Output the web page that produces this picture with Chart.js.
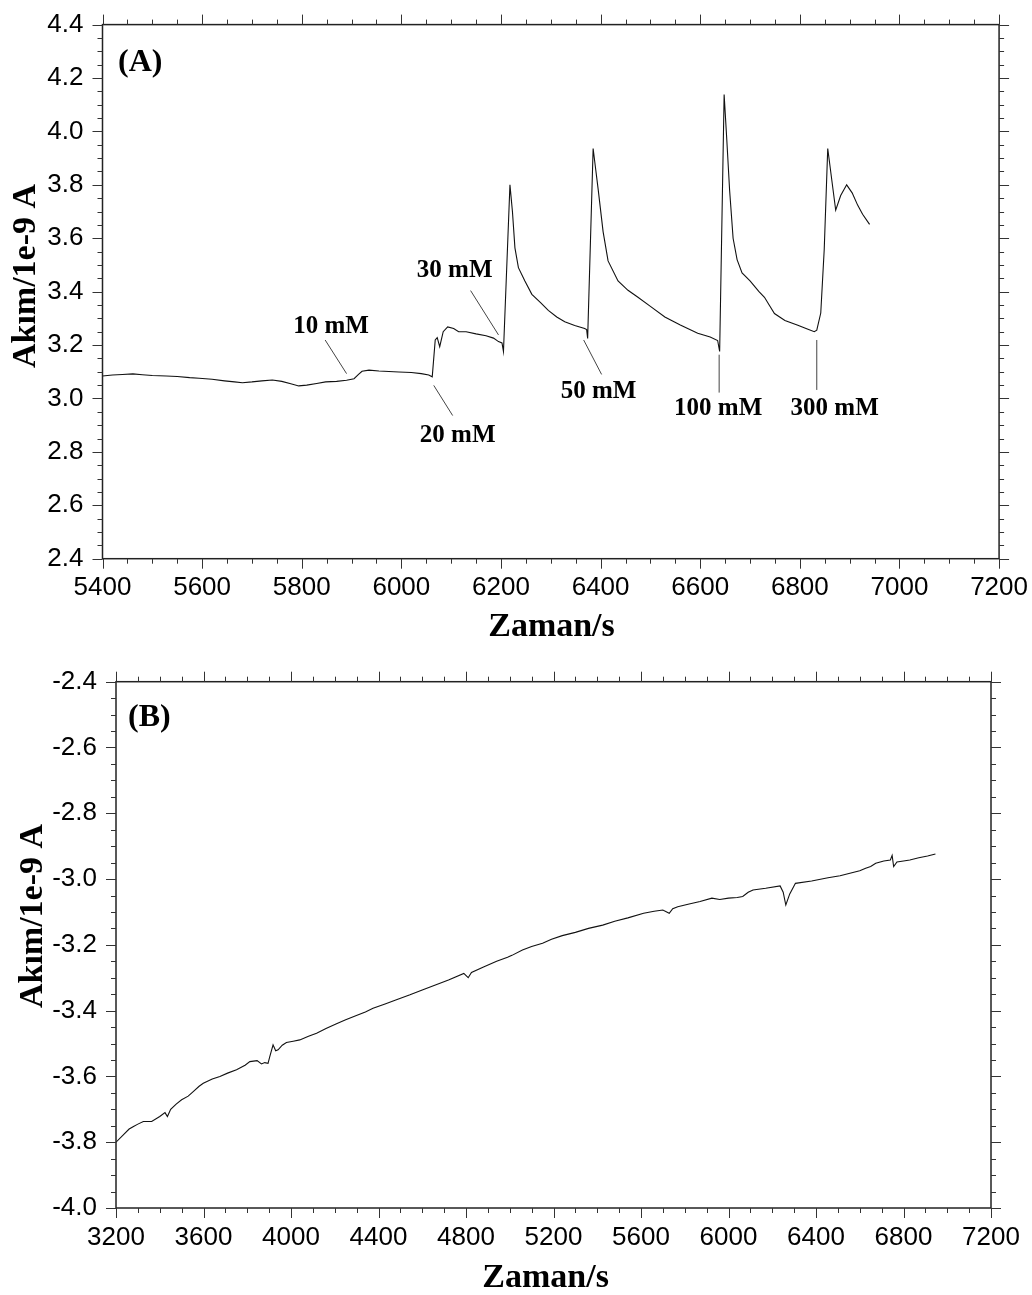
<!DOCTYPE html>
<html>
<head>
<meta charset="utf-8">
<script src="https://cdn.jsdelivr.net/npm/chart.js@4.4.1/dist/chart.umd.min.js"></script>
<style>
  body { margin: 0; background: #fff; }
  .panel { position: absolute; left: 0; }
  #wrapA { top: 0; }
  #wrapB { top: 650px; }
</style>
</head>
<body>
<div class="panel" id="wrapA"><canvas id="chartA" width="1032" height="650"></canvas></div>
<div class="panel" id="wrapB"><canvas id="chartB" width="1032" height="645"></canvas></div>
<script>
// ---- panel A: current vs time, with additions ----
var timeA = [5400, 5420, 5440, 5461, 5480, 5500, 5528, 5550, 5575, 5594, 5620, 5645, 5665, 5681, 5700,
  5720, 5741, 5760, 5778, 5794, 5810, 5830, 5848, 5870, 5890, 5905, 5914, 5921, 5935, 5955,
  5975, 5995, 6020, 6040, 6055, 6062, 6068, 6072, 6077, 6084, 6093, 6105, 6115, 6130, 6150,
  6170, 6185, 6195, 6202, 6205, 6218, 6223, 6228, 6235, 6248, 6262, 6280, 6295, 6312, 6328,
  6348, 6368, 6372, 6374, 6385, 6390, 6395, 6405, 6415, 6435, 6455, 6475, 6500, 6529, 6560,
  6595, 6620, 6635, 6639, 6648, 6653, 6659, 6666, 6674, 6684, 6700, 6718, 6729, 6740, 6749, 6770,
  6796, 6815, 6829, 6834, 6842, 6849, 6856, 6864, 6872, 6882, 6894, 6905, 6916, 6926, 6940];
var currentA = [3.084, 3.088, 3.090, 3.092, 3.089, 3.086, 3.084, 3.082, 3.078, 3.076, 3.072, 3.066, 3.062, 3.059, 3.062,
  3.066, 3.069, 3.064, 3.055, 3.047, 3.050, 3.056, 3.062, 3.064, 3.068, 3.074, 3.090, 3.102, 3.106, 3.103,
  3.101, 3.099, 3.097, 3.093, 3.088, 3.081, 3.219, 3.228, 3.194, 3.250, 3.268, 3.262, 3.250, 3.250, 3.242,
  3.235, 3.226, 3.213, 3.208, 3.176, 3.800, 3.700, 3.564, 3.490, 3.440, 3.390, 3.358, 3.330, 3.305, 3.287,
  3.273, 3.262, 3.258, 3.225, 3.936, 3.860, 3.785, 3.625, 3.515, 3.440, 3.405, 3.379, 3.345, 3.305, 3.275,
  3.244, 3.230, 3.217, 3.176, 4.138, 3.980, 3.780, 3.600, 3.520, 3.470, 3.440, 3.400, 3.379, 3.345, 3.318, 3.292,
  3.274, 3.260, 3.250, 3.256, 3.320, 3.560, 3.936, 3.820, 3.705, 3.760, 3.800, 3.770, 3.724, 3.690, 3.652];
var xTicksA = [5400, 5600, 5800, 6000, 6200, 6400, 6600, 6800, 7000, 7200];
var yTicksA = [2.4, 2.6, 2.8, 3.0, 3.2, 3.4, 3.6, 3.8, 4.0, 4.2, 4.4];
// concentration labels: text position and leader line, in data units
var notesA = [
  { text: '10 mM',  at: [5859, 3.270], from: [5847, 3.219], to: [5890, 3.093] },
  { text: '20 mM',  at: [6113, 2.860], from: [6065, 3.049], to: [6103, 2.936] },
  { text: '30 mM',  at: [6107, 3.480], from: [6139, 3.404], to: [6195, 3.238] },
  { text: '50 mM',  at: [6396, 3.026], from: [6366, 3.219], to: [6402, 3.090] },
  { text: '100 mM', at: [6636, 2.963], from: [6638, 3.164], to: [6638, 3.022] },
  { text: '300 mM', at: [6870, 2.963], from: [6834, 3.219], to: [6834, 3.032] }
];

// ---- panel B ----
var timeB = [3200, 3230, 3260, 3280, 3300, 3325, 3363, 3400, 3424, 3435, 3450, 3475, 3500, 3530, 3553,
  3580, 3599, 3640, 3675, 3710, 3751, 3790, 3812, 3845, 3865, 3880, 3895, 3903, 3918, 3930,
  3941, 3960, 3979, 4010, 4040, 4080, 4117, 4160, 4208, 4250, 4299, 4340, 4375, 4430, 4482,
  4544, 4600, 4660, 4720, 4790, 4810, 4825, 4880, 4940, 4990, 5010, 5058, 5100, 5150, 5191,
  5240, 5300, 5360, 5425, 5480, 5540, 5612, 5660, 5700, 5729, 5745, 5768, 5820, 5870, 5924,
  5960, 6000, 6040, 6065, 6090, 6112, 6170, 6236, 6250, 6262, 6280, 6306, 6380, 6455, 6510,
  6564, 6600, 6627, 6650, 6673, 6710, 6740, 6748, 6755, 6770, 6800, 6829, 6870, 6910, 6946];
var currentB = [-3.800, -3.780, -3.760, -3.752, -3.745, -3.737, -3.737, -3.722, -3.710, -3.722, -3.700, -3.684, -3.671, -3.660, -3.646,
  -3.630, -3.621, -3.608, -3.600, -3.590, -3.580, -3.566, -3.555, -3.552, -3.562, -3.558, -3.560, -3.540, -3.504, -3.522,
  -3.519, -3.505, -3.497, -3.493, -3.489, -3.478, -3.469, -3.454, -3.440, -3.428, -3.415, -3.404, -3.393, -3.380, -3.367,
  -3.352, -3.337, -3.322, -3.307, -3.287, -3.300, -3.284, -3.267, -3.250, -3.238, -3.232, -3.216, -3.205, -3.195, -3.183,
  -3.172, -3.162, -3.150, -3.140, -3.128, -3.118, -3.104, -3.098, -3.094, -3.104, -3.090, -3.084, -3.076, -3.068, -3.058,
  -3.062, -3.058, -3.056, -3.053, -3.040, -3.033, -3.028, -3.021, -3.040, -3.079, -3.045, -3.013, -3.006, -2.996, -2.990,
  -2.981, -2.975, -2.967, -2.962, -2.952, -2.945, -2.942, -2.928, -2.962, -2.948, -2.945, -2.942, -2.935, -2.930, -2.924];
var xTicksB = [3200, 3600, 4000, 4400, 4800, 5200, 5600, 6000, 6400, 6800, 7200];
var yTicksB = [-4.0, -3.8, -3.6, -3.4, -3.2, -3.0, -2.8, -2.6, -2.4];

var tickFont = { family: '"Liberation Sans", Arial, sans-serif', size: 26 };
var serifBold = '"Liberation Serif", "Times New Roman", serif';

// box frame, minor/major ticks on all four sides, titles and notes
const frameTicks = {
  id: 'frameTicks',
  afterDraw(chart, args, o) {
    const { ctx, chartArea: a, scales: { x, y } } = chart;
    ctx.save();
    ctx.strokeStyle = '#222';
    ctx.lineWidth = 1.5;
    ctx.strokeRect(a.left, a.top, a.right - a.left, a.bottom - a.top);

    ctx.lineWidth = 1;
    ctx.strokeStyle = '#333';
    ctx.beginPath();
    let n = Math.round((x.max - x.min) / o.xMinor);
    for (let i = 0; i <= n; i++) {
      const v = x.min + i * o.xMinor;
      const px = Math.round(x.getPixelForValue(v)) + 0.5;
      const len = o.xMajor.some(m => Math.abs(m - v) < 1e-6) ? 10 : 5;
      ctx.moveTo(px, a.bottom); ctx.lineTo(px, a.bottom + len);
      ctx.moveTo(px, a.top); ctx.lineTo(px, a.top - len);
    }
    n = Math.round((y.max - y.min) / o.yMinor);
    for (let i = 0; i <= n; i++) {
      const v = y.min + i * o.yMinor;
      const py = Math.round(y.getPixelForValue(v)) + 0.5;
      const len = o.yMajor.some(m => Math.abs(m - v) < 1e-6) ? 10 : 5;
      ctx.moveTo(a.left, py); ctx.lineTo(a.left - len, py);
      ctx.moveTo(a.right, py); ctx.lineTo(a.right + len, py);
    }
    ctx.stroke();

    ctx.fillStyle = '#000';
    // x title
    ctx.font = 'bold 34px ' + serifBold;
    ctx.textAlign = 'center';
    ctx.textBaseline = 'alphabetic';
    ctx.fillText('Zaman/s', o.xTitle[0], o.xTitle[1]);
    // y title, rotated
    ctx.save();
    ctx.translate(o.yTitle[0], o.yTitle[1]);
    ctx.rotate(-Math.PI / 2);
    ctx.fillText('Akım/1e-9 A', 0, 0);
    ctx.restore();
    // panel letter
    ctx.font = 'bold 32px ' + serifBold;
    ctx.textAlign = 'left';
    ctx.textBaseline = 'middle';
    ctx.fillText(o.panel, a.left + o.panelOff[0], a.top + o.panelOff[1]);

    // concentration notes
    ctx.font = 'bold 25px ' + serifBold;
    ctx.textAlign = 'center';
    ctx.strokeStyle = '#444';
    ctx.lineWidth = 1;
    (o.notes || []).forEach(nt => {
      ctx.beginPath();
      ctx.moveTo(x.getPixelForValue(nt.from[0]), y.getPixelForValue(nt.from[1]));
      ctx.lineTo(x.getPixelForValue(nt.to[0]), y.getPixelForValue(nt.to[1]));
      ctx.stroke();
      ctx.fillText(nt.text, x.getPixelForValue(nt.at[0]), y.getPixelForValue(nt.at[1]));
    });
    ctx.restore();
  }
};

function makeChart(id, c) {
  return new Chart(document.getElementById(id), {
    type: 'line',
    data: {
      datasets: [{
        data: c.t.map((t, i) => ({ x: t, y: c.v[i] })),
        borderColor: '#111',
        borderWidth: 1.1,
        pointRadius: 0,
        tension: 0,
        fill: false
      }]
    },
    options: {
      responsive: false,
      animation: false,
      layout: { padding: { top: c.top, right: c.right, left: 0, bottom: 0 } },
      plugins: {
        legend: { display: false },
        tooltip: { enabled: false },
        frameTicks: c.frame
      },
      scales: {
        x: {
          type: 'linear',
          min: c.xTicks[0],
          max: c.xTicks[c.xTicks.length - 1],
          afterBuildTicks: s => { s.ticks = c.xTicks.map(v => ({ value: v })); },
          afterFit: s => { s.height = c.xAxisH; },
          grid: { display: false, tickLength: 10 },
          border: { display: false },
          ticks: { padding: 4, color: '#000', font: tickFont, maxRotation: 0, autoSkip: false,
                   callback: v => String(v) }
        },
        y: {
          type: 'linear',
          min: c.yTicks[0],
          max: c.yTicks[c.yTicks.length - 1],
          afterBuildTicks: s => { s.ticks = c.yTicks.map(v => ({ value: v })); },
          afterFit: s => { s.width = c.yAxisW; },
          grid: { display: false, tickLength: 10 },
          border: { display: false },
          ticks: { padding: 9, color: '#000', font: tickFont, autoSkip: false,
                   callback: v => Number(v).toFixed(1) }
        }
      }
    },
    plugins: [frameTicks]
  });
}

makeChart('chartA', {
  t: timeA, v: currentA, xTicks: xTicksA, yTicks: yTicksA,
  top: 17, right: 30, yAxisW: 102.5, xAxisH: 91.3,
  frame: { xMinor: 50, yMinor: 0.05, xMajor: xTicksA, yMajor: yTicksA,
           xTitle: [551.5, 636], yTitle: [35, 276], panel: '(A)', panelOff: [15.5, 38.5], notes: notesA }
});

makeChart('chartB', {
  t: timeB, v: currentB, xTicks: xTicksB, yTicks: yTicksB,
  top: 31.7, right: 41, yAxisW: 116, xAxisH: 87,
  frame: { xMinor: 100, yMinor: 0.05, xMajor: xTicksB, yMajor: yTicksB,
           xTitle: [545.6, 637], yTitle: [42, 266], panel: '(B)', panelOff: [12, 36], notes: [] }
});
</script>
</body>
</html>
